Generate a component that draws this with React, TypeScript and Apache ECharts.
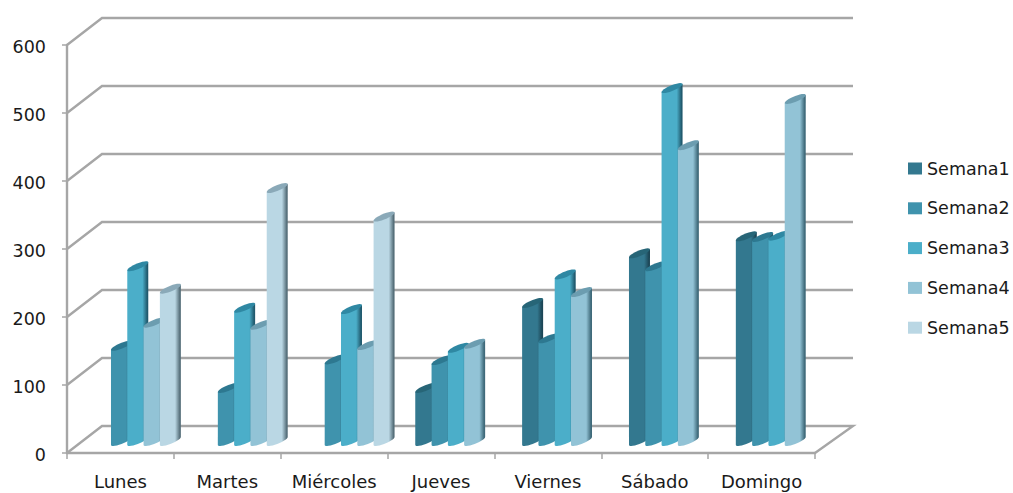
import React, { useEffect, useRef } from "react";
import * as echarts from "echarts";

const dias = ["Lunes", "Martes", "Miércoles", "Jueves", "Viernes", "Sábado", "Domingo"];
const semanas = ["Semana1", "Semana2", "Semana3", "Semana4", "Semana5"];

const semana1 = [null, null, null, 78, 203, 276, 301];
const semana2 = [140, 78, 120, 119, 151, 257, 300];
const semana3 = [257, 196, 194, 137, 245, 519, 302];
const semana4 = [174, 171, 141, 143, 219, 435, 503];
const semana5 = [224, 372, 330, null, null, null, null];
const valores = [semana1, semana2, semana3, semana4, semana5];

const ticks = [0, 100, 200, 300, 400, 500, 600];

const colores = ["#33788f", "#3f93ad", "#4baec9", "#92c3d6", "#bad7e4"];
const sombras = ["#1c4656", "#1f5567", "#215a6e", "#3f6a7a", "#566f7a"];
const tapas = ["#276577", "#2d7890", "#2f88a3", "#6c9db0", "#8aa9b8"];

const GRIS = "#a6a6a6";
const PROF_X = 35;
const PROF_Y = -27;

// Desplazamiento de las columnas dentro de la profundidad del suelo
const BASE_X = 15;
const BASE_Y = -8;
const ANCHO = 21;
const SUBE = 8;

function medioElipse(x: number, y: number, desde: number, hasta: number) {
  const pts: number[][] = [];
  const cx = x + ANCHO / 2;
  const cy = y - SUBE / 2;
  for (let i = 0; i <= 14; i++) {
    const t = desde + ((hasta - desde) * i) / 14;
    pts.push([
      cx - (Math.cos(t) * ANCHO) / 2,
      cy + (Math.cos(t) * SUBE) / 2 + Math.sin(t) * 3,
    ]);
  }
  return pts;
}

function columna(indice: number) {
  return (_params: any, api: any) => {
    const v = api.value(1);
    if (v == null || isNaN(v)) return null;
    const cat = api.value(0);
    const banda = api.size([1, 0])[0];
    const paso = banda * 0.1525;
    const tope = api.coord([cat, v]);
    const suelo = api.coord([cat, 0]);
    const x = tope[0] + BASE_X + (indice - 2.5) * paso;
    const yt = tope[1] + BASE_Y;
    const yb = suelo[1] + BASE_Y;
    const cuerpo = [
      [x, yt],
      [x + ANCHO, yt - SUBE],
      ...medioElipse(x, yb, Math.PI, 0),
    ];
    const degradado = new echarts.graphic.LinearGradient(0, 0, 1, 0, [
      { offset: 0, color: colores[indice] },
      { offset: 0.55, color: colores[indice] },
      { offset: 0.72, color: colores[indice] },
      { offset: 0.95, color: sombras[indice] },
      { offset: 1, color: sombras[indice] },
    ]);
    return {
      type: "group",
      children: [
        { type: "polygon", shape: { points: cuerpo }, style: { fill: degradado } },
        {
          type: "polygon",
          shape: {
            points: [...medioElipse(x, yt, 0, Math.PI), ...medioElipse(x, yt, Math.PI, 2 * Math.PI)],
          },
          style: { fill: tapas[indice] },
        },
      ],
    };
  };
}

// Paredes del fondo y suelo: cada línea sale del eje y sube hacia atrás
function paredes(_params: any, api: any) {
  const v = api.value(0);
  const izq = api.coord([0, v]);
  const der = api.coord([dias.length - 1, v]);
  const banda = api.size([1, 0])[0];
  const x0 = izq[0] - banda / 2;
  const x1 = der[0] + banda / 2;
  const puntos = [
    [x0, izq[1]],
    [x0 + PROF_X, izq[1] + PROF_Y],
    [x1 + PROF_X + 3, izq[1] + PROF_Y],
  ];
  if (v === 0) puntos.push([x1, izq[1]]);
  return {
    type: "polyline",
    shape: { points: puntos },
    style: { fill: "none", stroke: GRIS, lineWidth: 2.4 },
  };
}

export default function App() {
  const ref = useRef<HTMLDivElement>(null);

  useEffect(() => {
    const chart = echarts.init(ref.current!, null, { renderer: "svg" });
    const fuente = "DejaVu Sans";
    chart.setOption({
      animation: false,
      backgroundColor: "#ffffff",
      grid: { left: 67, right: 198, top: 45, bottom: 40 },
      legend: {
        orient: "vertical",
        left: 908,
        top: 158.5,
        padding: 0,
        itemWidth: 14,
        itemHeight: 12,
        itemGap: 19.8,
        icon: "rect",
        data: semanas,
        textStyle: { fontFamily: fuente, fontSize: 17.5, lineHeight: 20, color: "#1a1a1a" },
      },
      xAxis: {
        type: "category",
        data: dias,
        axisLine: { lineStyle: { color: GRIS, width: 2.4 } },
        axisTick: { show: true, interval: 0, length: 6, lineStyle: { color: GRIS, width: 1.5 } },
        axisLabel: { fontFamily: fuente, fontSize: 18, color: "#1a1a1a", margin: 19, interval: 0 },
        splitLine: { show: false },
      },
      yAxis: {
        type: "value",
        min: 0,
        max: 600,
        interval: 100,
        axisLine: { show: true, lineStyle: { color: GRIS, width: 2.4 } },
        axisTick: { show: true, length: 5, lineStyle: { color: GRIS, width: 1.5 } },
        axisLabel: {
          fontFamily: fuente,
          fontSize: 17.5,
          color: "#1a1a1a",
          margin: 21,
          lineHeight: 20,
          verticalAlign: "bottom",
          padding: [0, 0, -12, 0],
        },
        splitLine: { show: false },
      },
      series: [
        {
          type: "custom",
          silent: true,
          renderItem: paredes,
          data: ticks.map((t) => [t]),
          encode: { y: 0 },
        },
        ...semanas.map((nombre, i) => ({
          name: nombre,
          type: "custom",
          renderItem: columna(i),
          itemStyle: { color: colores[i] },
          data: valores[i].map((v, c) => [c, v]),
          encode: { x: 0, y: 1 },
        })),
      ],
    });
    return () => chart.dispose();
  }, []);

  return (
    <div
      ref={ref}
      style={{ position: "fixed", left: 0, top: 0, width: 1013, height: 493 }}
    />
  );
}
